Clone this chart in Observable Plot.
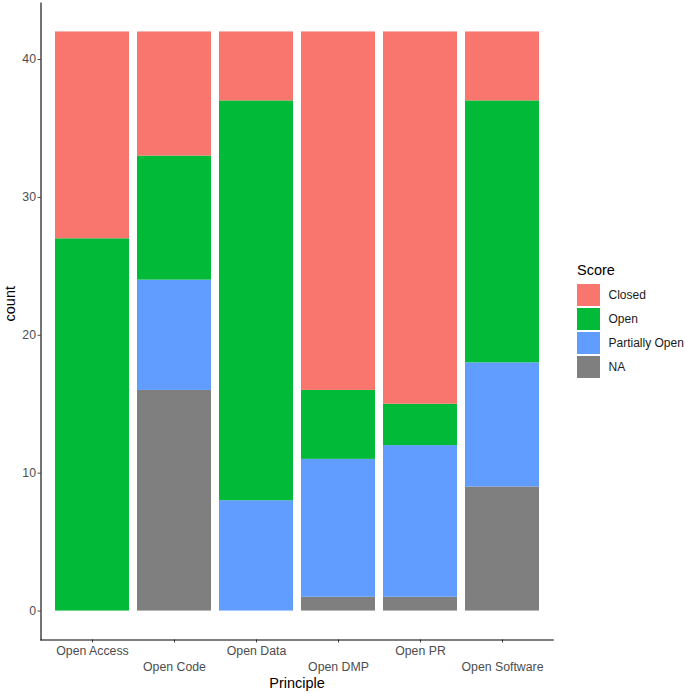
<!DOCTYPE html>
<html>
<head>
<meta charset="utf-8">
<script src="https://cdn.jsdelivr.net/npm/d3@7"></script>
<script src="https://cdn.jsdelivr.net/npm/@observablehq/plot@0.6"></script>
<style>
  html, body { margin: 0; padding: 0; background: #fff; }
  #wrap { position: relative; width: 685px; height: 694px; font-family: "Liberation Sans", Arial, sans-serif; }
  #legend { position: absolute; left: 577px; top: 259px; font-family: "Liberation Sans", Arial, sans-serif; }
  #legend .title { font-size: 14.5px; color: #000; height: 24px; line-height: 22px; }
  #legend .row { display: flex; align-items: center; height: 24px; }
  #legend .key { width: 22.5px; height: 22.5px; margin-right: 9px; }
  #legend .lab { font-size: 12px; color: #1a1a1a; }
</style>
</head>
<body>
<div id="wrap"><div id="chart"></div><div id="legend"></div></div>
<script>
const principles = ["Open Access", "Open Code", "Open Data", "Open DMP", "Open PR", "Open Software"];
const scores = ["Closed", "Open", "Partially Open", "NA"];          // legend order
const stackOrder = ["NA", "Partially Open", "Open", "Closed"];      // bottom to top
const colors = ["#F8766D", "#00BA38", "#619CFF", "#7F7F7F"];
// counts per principle
const closedCounts  = [15, 9, 5, 26, 27, 5];
const openCounts    = [27, 9, 29, 5, 3, 19];
const partialCounts = [0, 8, 8, 10, 11, 9];
const naCounts      = [0, 16, 0, 1, 1, 9];
const yTicks = [0, 10, 20, 30, 40];

const countsByScore = {"Closed": closedCounts, "Open": openCounts, "Partially Open": partialCounts, "NA": naCounts};
const data = [];
principles.forEach((p, i) => {
  stackOrder.forEach(s => {
    const v = countsByScore[s][i];
    if (v > 0) data.push({Principle: p, Score: s, count: v});
  });
});

const row1 = principles.filter((d, i) => i % 2 === 0);
const row2 = principles.filter((d, i) => i % 2 === 1);

const chart = Plot.plot({
  width: 685,
  height: 694,
  marginLeft: 40.5,
  marginRight: 132.3,
  marginTop: 2.5,
  marginBottom: 54.5,
  style: {fontFamily: "'Liberation Sans', Arial, sans-serif", background: "white"},
  x: {domain: principles, paddingInner: 0.1, paddingOuter: 0.15, label: null},
  y: {domain: [-2.1, 44.1], label: null},
  color: {domain: scores, range: colors},
  marks: [
    Plot.barY(data, Plot.stackY({order: stackOrder}, {x: "Principle", y: "count", fill: "Score", z: "Score"})),
    Plot.axisY({ticks: yTicks, tickSize: 3, tickPadding: 2, fontSize: 12.3, color: "#4d4d4d", label: null}),
    Plot.axisX(row1, {tickSize: 3, tickPadding: 3.5, fontSize: 12.3, color: "#4d4d4d", label: null}),
    Plot.axisX(row2, {tickSize: 3, tickPadding: 19, fontSize: 12.3, color: "#4d4d4d", label: null}),
    Plot.frame({anchor: "left", stroke: "#000", strokeWidth: 1.1}),
    Plot.frame({anchor: "bottom", stroke: "#000", strokeWidth: 1.1}),
    Plot.text(["count"], {frameAnchor: "left", dx: -31, rotate: -90, fontSize: 14.5, fill: "#000"}),
    Plot.text(["Principle"], {frameAnchor: "bottom", dy: 47.5, fontSize: 14.5, fill: "#000"})
  ]
});
document.getElementById("chart").appendChild(chart);

const legend = document.getElementById("legend");
const t = document.createElement("div");
t.className = "title"; t.textContent = "Score";
legend.appendChild(t);
scores.forEach((s, i) => {
  const r = document.createElement("div"); r.className = "row";
  const k = document.createElement("div"); k.className = "key"; k.style.background = colors[i];
  const l = document.createElement("div"); l.className = "lab"; l.textContent = s;
  r.appendChild(k); r.appendChild(l); legend.appendChild(r);
});
</script>
</body>
</html>
